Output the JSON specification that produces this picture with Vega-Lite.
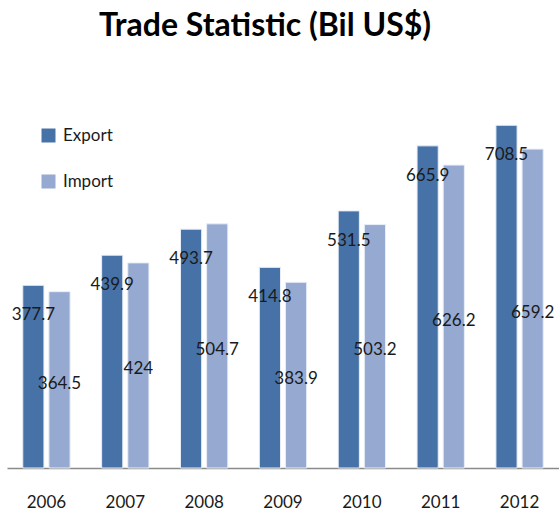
{
  "$schema": "https://vega.github.io/schema/vega-lite/v6.json",
  "autosize": "none",
  "width": 552,
  "height": 387,
  "padding": {"left": 7, "top": 81, "right": 0, "bottom": 49},
  "background": "white",
  "title": {
    "text": "Trade Statistic (Bil US$)",
    "font": "Lato",
    "fontSize": 32,
    "fontWeight": "bold",
    "color": "#000000",
    "anchor": "middle",
    "dx": -18,
    "offset": 38
  },
  "config": {"view": {"stroke": null}},
  "data": {
    "values": [
      {"year": "2006", "type": "Export", "value": 377.7},
      {"year": "2006", "type": "Import", "value": 364.5},
      {"year": "2007", "type": "Export", "value": 439.9},
      {"year": "2007", "type": "Import", "value": 424},
      {"year": "2008", "type": "Export", "value": 493.7},
      {"year": "2008", "type": "Import", "value": 504.7},
      {"year": "2009", "type": "Export", "value": 414.8},
      {"year": "2009", "type": "Import", "value": 383.9},
      {"year": "2010", "type": "Export", "value": 531.5},
      {"year": "2010", "type": "Import", "value": 503.2},
      {"year": "2011", "type": "Export", "value": 665.9},
      {"year": "2011", "type": "Import", "value": 626.2},
      {"year": "2012", "type": "Export", "value": 708.5},
      {"year": "2012", "type": "Import", "value": 659.2}
    ]
  },
  "encoding": {
    "x": {
      "field": "year",
      "type": "nominal",
      "scale": {"paddingInner": 0.4, "paddingOuter": 0.2},
      "axis": {
        "title": null,
        "labelAngle": 0,
        "labelFont": "Lato",
        "labelFontSize": 17,
        "labelColor": "#1a1a1a",
        "labelPadding": 26,
        "ticks": false,
        "domainColor": "#8a8a8a",
        "domainWidth": 1.5
      }
    },
    "xOffset": {
      "field": "type",
      "type": "nominal",
      "scale": {"paddingInner": 0.19}
    },
    "y": {
      "field": "value",
      "type": "quantitative",
      "scale": {"domain": [0, 800]},
      "axis": null
    }
  },
  "layer": [
    {
      "mark": {"type": "bar", "stroke": "#e8eef7", "strokeWidth": 1},
      "encoding": {
        "color": {
          "field": "type",
          "type": "nominal",
          "scale": {"domain": ["Export", "Import"], "range": ["#4672a8", "#95a9d1"]},
          "legend": {
            "title": null,
            "orient": "none",
            "legendX": 33,
            "legendY": 46,
            "padding": 0,
            "symbolType": "square",
            "symbolSize": 196,
            "symbolStrokeWidth": 0,
            "labelFont": "Lato",
            "labelFontSize": 17,
            "labelColor": "#1a1a1a",
            "labelOffset": 6,
            "rowPadding": 28
          }
        }
      }
    },
    {
      "transform": [{"filter": "datum.type === 'Export'"}],
      "mark": {"type": "text", "font": "Lato", "fontSize": 17, "color": "#1a1a1a", "dy": 30, "baseline": "middle"},
      "encoding": {"text": {"field": "value", "type": "quantitative"}}
    },
    {
      "transform": [
        {"filter": "datum.type === 'Import'"},
        {"calculate": "datum.value / 2", "as": "mid"}
      ],
      "mark": {"type": "text", "font": "Lato", "fontSize": 17, "color": "#1a1a1a", "dy": 4, "baseline": "middle"},
      "encoding": {
        "y": {"field": "mid", "type": "quantitative"},
        "text": {"field": "value", "type": "quantitative"}
      }
    }
  ]
}
